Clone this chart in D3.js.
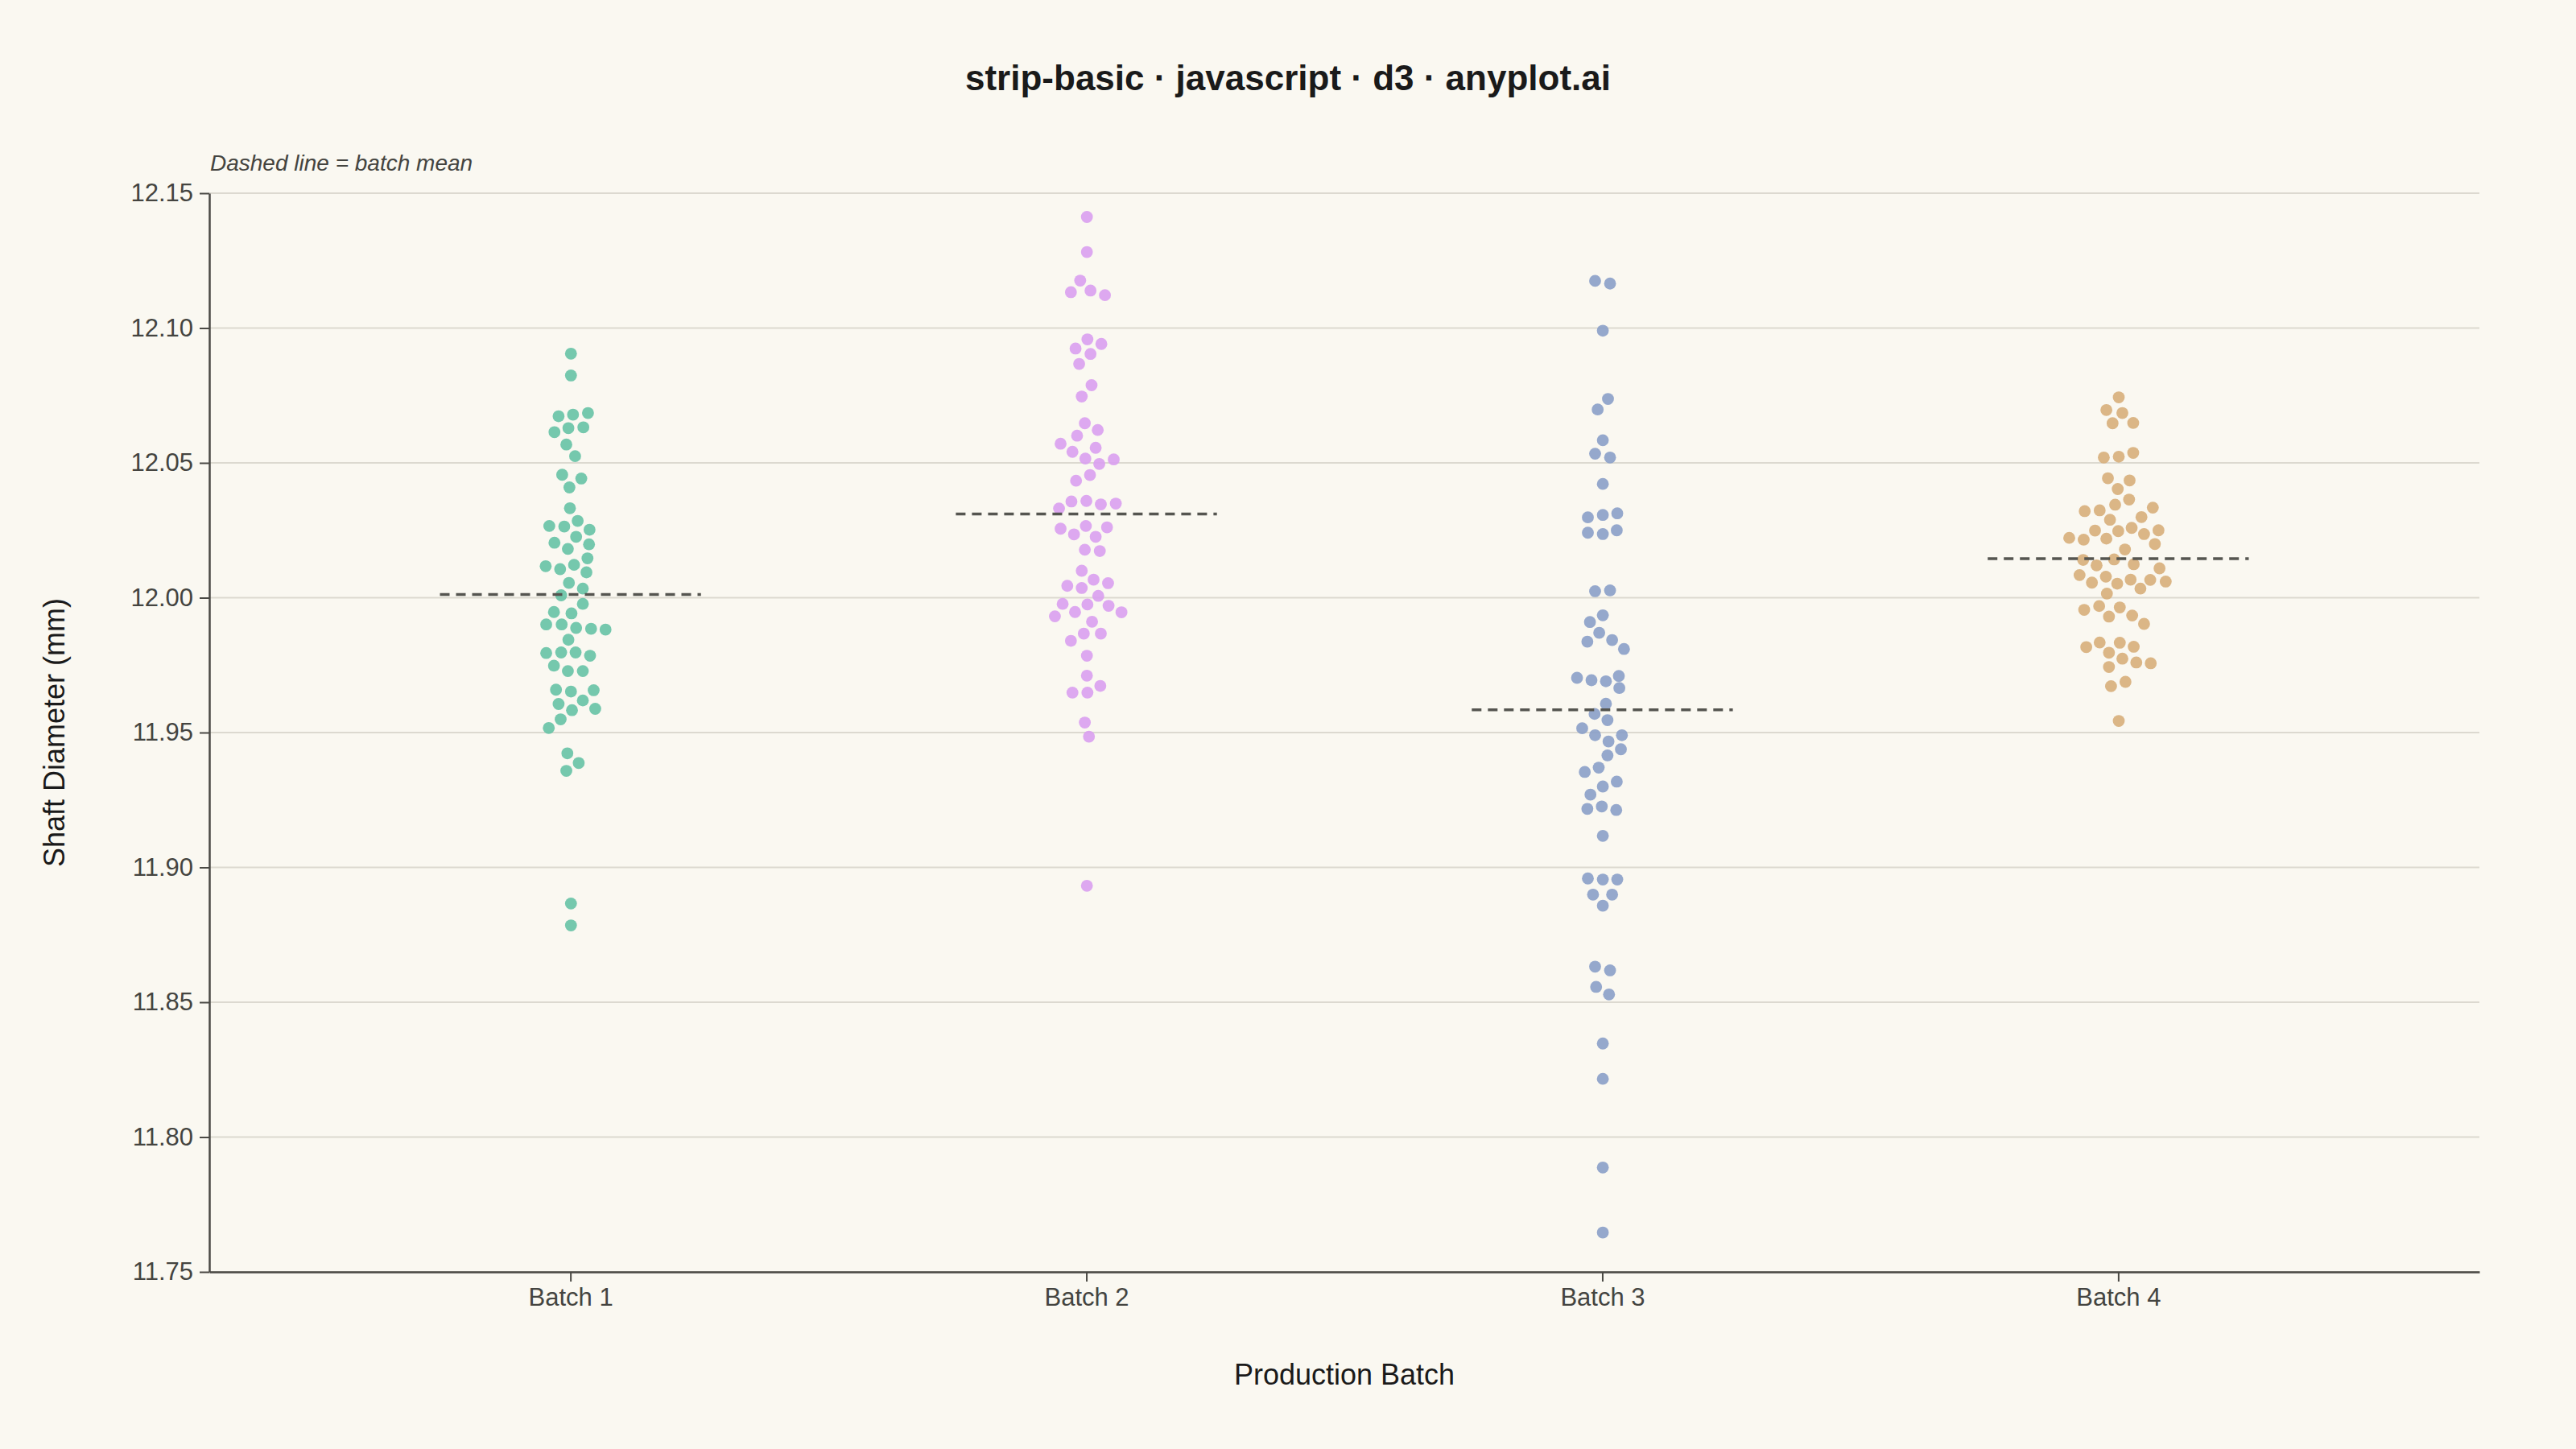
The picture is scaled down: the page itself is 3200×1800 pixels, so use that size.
<!DOCTYPE html>
<html>
<head>
<meta charset="utf-8">
<script src="https://cdn.jsdelivr.net/npm/d3@7"></script>
<style>
  html, body { margin: 0; padding: 0; background: #faf8f1; }
  svg { display: block; font-family: "Liberation Sans", Arial, sans-serif; }
</style>
</head>
<body>
<svg id="chart" width="3200" height="1800"></svg>
<script>
// ---------- data ----------
const batches = ["Batch 1", "Batch 2", "Batch 3", "Batch 4"];

const batch1Values = [12.0905, 12.0824, 12.0673, 12.0679, 12.0685, 12.0614, 12.0629, 12.0632, 12.0568, 12.0525,
  12.0456, 12.0442, 12.0409, 12.0332, 12.0266, 12.0264, 12.0285, 12.0252, 12.0204, 12.0226,
  12.0181, 12.0198, 12.0117, 12.0106, 12.0122, 12.0146, 12.0094, 12.0055, 12.0034, 12.0009,
  11.9977, 11.9947, 11.9942, 11.9901, 11.9901, 11.9888, 11.9885, 11.9882, 11.9844, 11.9795,
  11.9797, 11.9797, 11.9785, 11.9748, 11.9728, 11.9728, 11.9659, 11.9652, 11.9657, 11.9606,
  11.9619, 11.9583, 11.9588, 11.9549, 11.9517, 11.9423, 11.9387, 11.9358, 11.8866, 11.8785];
const batch1Jitter = [0.001, 0.001, -0.023, 0.005, 0.034, -0.031, -0.004, 0.025, -0.008, 0.009,
  -0.016, 0.021, -0.002, -0.001, -0.041, -0.012, 0.014, 0.037, -0.031, 0.011,
  -0.005, 0.036, -0.048, -0.020, 0.007, 0.033, 0.031, -0.003, 0.024, -0.018,
  0.024, -0.032, 0.002, -0.047, -0.017, 0.011, 0.040, 0.068, -0.004, -0.047,
  -0.018, 0.010, 0.038, -0.032, -0.005, 0.024, -0.028, 0.001, 0.045, -0.023,
  0.024, 0.003, 0.048, -0.019, -0.042, -0.006, 0.016, -0.008, 0.001, 0.001];

const batch2Values = [12.1412, 12.1282, 12.1176, 12.1133, 12.1139, 12.1122, 12.0958, 12.0924, 12.0941, 12.0904,
  12.0867, 12.0788, 12.0746, 12.0647, 12.0622, 12.0601, 12.0571, 12.0541, 12.0556, 12.0516,
  12.0513, 12.0496, 12.0455, 12.0434, 12.0357, 12.0359, 12.0346, 12.0349, 12.0331, 12.0256,
  12.0235, 12.0266, 12.0261, 12.0226, 12.0178, 12.0173, 12.0100, 12.0067, 12.0044, 12.0036,
  12.0054, 12.0007, 11.9977, 11.9975, 11.9970, 11.9947, 11.9931, 11.9946, 11.9911, 11.9867,
  11.9867, 11.9840, 11.9785, 11.9711, 11.9673, 11.9648, 11.9648, 11.9537, 11.9485, 11.8932];
const batch2Jitter = [0.001, 0.001, -0.012, -0.030, 0.008, 0.036, 0.002, -0.021, 0.029, 0.008,
  -0.014, 0.010, -0.009, -0.003, 0.022, -0.018, -0.050, -0.027, 0.018, -0.002,
  0.053, 0.025, 0.007, -0.020, -0.029, 0.000, 0.028, 0.057, -0.053, -0.050,
  -0.024, -0.001, 0.040, 0.018, -0.003, 0.026, -0.009, 0.014, -0.037, -0.009,
  0.042, 0.023, -0.046, 0.002, 0.043, -0.022, -0.061, 0.068, 0.011, -0.005,
  0.028, -0.030, 0.001, 0.001, 0.027, -0.027, 0.002, -0.003, 0.005, 0.001];

const batch3Values = [12.1175, 12.1165, 12.0990, 12.0737, 12.0698, 12.0584, 12.0534, 12.0520, 12.0422, 12.0298,
  12.0307, 12.0313, 12.0241, 12.0236, 12.0250, 12.0024, 12.0027, 11.9935, 11.9910, 11.9870,
  11.9837, 11.9843, 11.9810, 11.9703, 11.9694, 11.9690, 11.9710, 11.9665, 11.9607, 11.9569,
  11.9546, 11.9516, 11.9490, 11.9490, 11.9467, 11.9438, 11.9415, 11.9370, 11.9354, 11.9318,
  11.9300, 11.9270, 11.9217, 11.9226, 11.9213, 11.9117, 11.8959, 11.8955, 11.8955, 11.8899,
  11.8899, 11.8858, 11.8632, 11.8618, 11.8557, 11.8529, 11.8347, 11.8216, 11.7887, 11.7646];
const batch3Jitter = [-0.014, 0.015, 0.001, 0.011, -0.009, 0.001, -0.014, 0.015, 0.001, -0.028,
  0.001, 0.029, -0.028, 0.001, 0.028, -0.014, 0.015, 0.001, -0.024, -0.006,
  -0.029, 0.019, 0.042, -0.049, -0.021, 0.007, 0.032, 0.033, 0.007, -0.015,
  0.010, -0.039, -0.014, 0.038, 0.012, 0.036, 0.010, -0.007, -0.034, 0.028,
  0.001, -0.023, -0.029, -0.001, 0.027, 0.001, -0.028, 0.001, 0.029, -0.018,
  0.019, 0.001, -0.014, 0.015, -0.012, 0.013, 0.001, 0.001, 0.001, 0.001];

const batch4Values = [12.0743, 12.0696, 12.0685, 12.0647, 12.0648, 12.0520, 12.0523, 12.0537, 12.0443, 12.0435,
  12.0403, 12.0364, 12.0345, 12.0321, 12.0324, 12.0334, 12.0299, 12.0289, 12.0249, 12.0247,
  12.0259, 12.0250, 12.0222, 12.0215, 12.0219, 12.0236, 12.0199, 12.0179, 12.0140, 12.0142,
  12.0120, 12.0124, 12.0109, 12.0084, 12.0078, 12.0056, 12.0052, 12.0067, 12.0066, 12.0060,
  12.0034, 12.0015, 11.9955, 11.9969, 11.9964, 11.9930, 11.9934, 11.9903, 11.9817, 11.9834,
  11.9833, 11.9818, 11.9796, 11.9774, 11.9760, 11.9757, 11.9743, 11.9688, 11.9672, 11.9543];
const batch4Jitter = [0.001, -0.023, 0.008, -0.011, 0.029, -0.028, 0.001, 0.029, -0.020, 0.022,
  -0.001, 0.021, -0.006, -0.065, -0.036, 0.067, 0.045, -0.016, -0.045, 0.000,
  0.026, 0.078, -0.095, -0.067, -0.023, 0.050, 0.071, 0.013, -0.068, -0.008,
  -0.042, 0.030, 0.080, -0.075, -0.024, -0.051, -0.002, 0.024, 0.062, 0.092,
  0.043, -0.022, -0.066, -0.037, 0.003, -0.018, 0.027, 0.050, -0.062, -0.036,
  0.003, 0.030, -0.018, 0.008, 0.035, 0.063, -0.018, 0.014, -0.014, 0.001];

const yTicks = [11.75, 11.80, 11.85, 11.90, 11.95, 12.00, 12.05, 12.10, 12.15];

// ---------- layout / style ----------
const W = 3200, H = 1800;
const margin = { top: 240, right: 120, bottom: 220, left: 260 };
const colors = ["#66c2a5", "#d99ff0", "#8a9fc8", "#d7ae7a"];
const bg = "#faf8f1";
const axisColor = "#4a4944";
const gridColor = "#dcd9d0";
const radius = 7.4;

const svg = d3.select("#chart");
svg.append("rect").attr("width", W).attr("height", H).attr("fill", bg);

const x = d3.scalePoint()
  .domain(batches)
  .range([margin.left, W - margin.right])
  .padding(0.7);
const step = x.step();

const y = d3.scaleLinear()
  .domain([11.75, 12.15])
  .range([H - margin.bottom, margin.top]);

// gridlines
svg.append("g")
  .selectAll("line")
  .data(yTicks)
  .join("line")
  .attr("x1", margin.left)
  .attr("x2", W - margin.right)
  .attr("y1", d => y(d))
  .attr("y2", d => y(d))
  .attr("stroke", gridColor)
  .attr("stroke-width", 2);

// build table
const series = [
  { name: batches[0], values: batch1Values, jitter: batch1Jitter },
  { name: batches[1], values: batch2Values, jitter: batch2Jitter },
  { name: batches[2], values: batch3Values, jitter: batch3Jitter },
  { name: batches[3], values: batch4Values, jitter: batch4Jitter }
];

// points
series.forEach((s, i) => {
  svg.append("g")
    .selectAll("circle")
    .data(s.values.map((v, k) => ({ v, j: s.jitter[k] })))
    .join("circle")
    .attr("cx", d => x(s.name) + d.j * step)
    .attr("cy", d => y(d.v))
    .attr("r", radius)
    .attr("fill", colors[i])
    .attr("fill-opacity", 0.9);
});

// mean lines
series.forEach(s => {
  const m = d3.mean(s.values);
  svg.append("line")
    .attr("x1", x(s.name) - step * 0.253)
    .attr("x2", x(s.name) + step * 0.253)
    .attr("y1", y(m))
    .attr("y2", y(m))
    .attr("stroke", "#555550")
    .attr("stroke-width", 3.5)
    .attr("stroke-dasharray", "12,8");
});

// axes
const yAxis = d3.axisLeft(y)
  .tickValues(yTicks)
  .tickFormat(d3.format(".2f"))
  .tickSize(12)
  .tickSizeOuter(0)
  .tickPadding(8);
const gy = svg.append("g")
  .attr("transform", `translate(${margin.left},0)`)
  .call(yAxis);

const xAxis = d3.axisBottom(x)
  .tickSize(12)
  .tickSizeOuter(0)
  .tickPadding(8);
const gx = svg.append("g")
  .attr("transform", `translate(0,${H - margin.bottom})`)
  .call(xAxis);

[gx, gy].forEach(g => {
  g.select(".domain").attr("stroke", axisColor).attr("stroke-width", 2.5);
  g.selectAll(".tick line").attr("stroke", axisColor).attr("stroke-width", 2);
  g.selectAll(".tick text")
    .attr("fill", "#444440")
    .style("font-size", "31px")
    .style("font-family", "'Liberation Sans', Arial, sans-serif");
});

// title
svg.append("text")
  .attr("x", W / 2)
  .attr("y", 112)
  .attr("text-anchor", "middle")
  .attr("fill", "#1a1a1a")
  .style("font-size", "44px")
  .style("font-weight", "bold")
  .text("strip-basic · javascript · d3 · anyplot.ai");

// subtitle / note
svg.append("text")
  .attr("x", margin.left + 1)
  .attr("y", 212)
  .attr("fill", "#444440")
  .style("font-size", "28px")
  .style("font-style", "italic")
  .text("Dashed line = batch mean");

// x label
svg.append("text")
  .attr("x", (margin.left + W - margin.right) / 2)
  .attr("y", 1720)
  .attr("text-anchor", "middle")
  .attr("fill", "#1a1a1a")
  .style("font-size", "36px")
  .text("Production Batch");

// y label
svg.append("text")
  .attr("transform", `translate(80,${(margin.top + H - margin.bottom) / 2}) rotate(-90)`)
  .attr("text-anchor", "middle")
  .attr("fill", "#1a1a1a")
  .style("font-size", "36px")
  .text("Shaft Diameter (mm)");
</script>
</body>
</html>
